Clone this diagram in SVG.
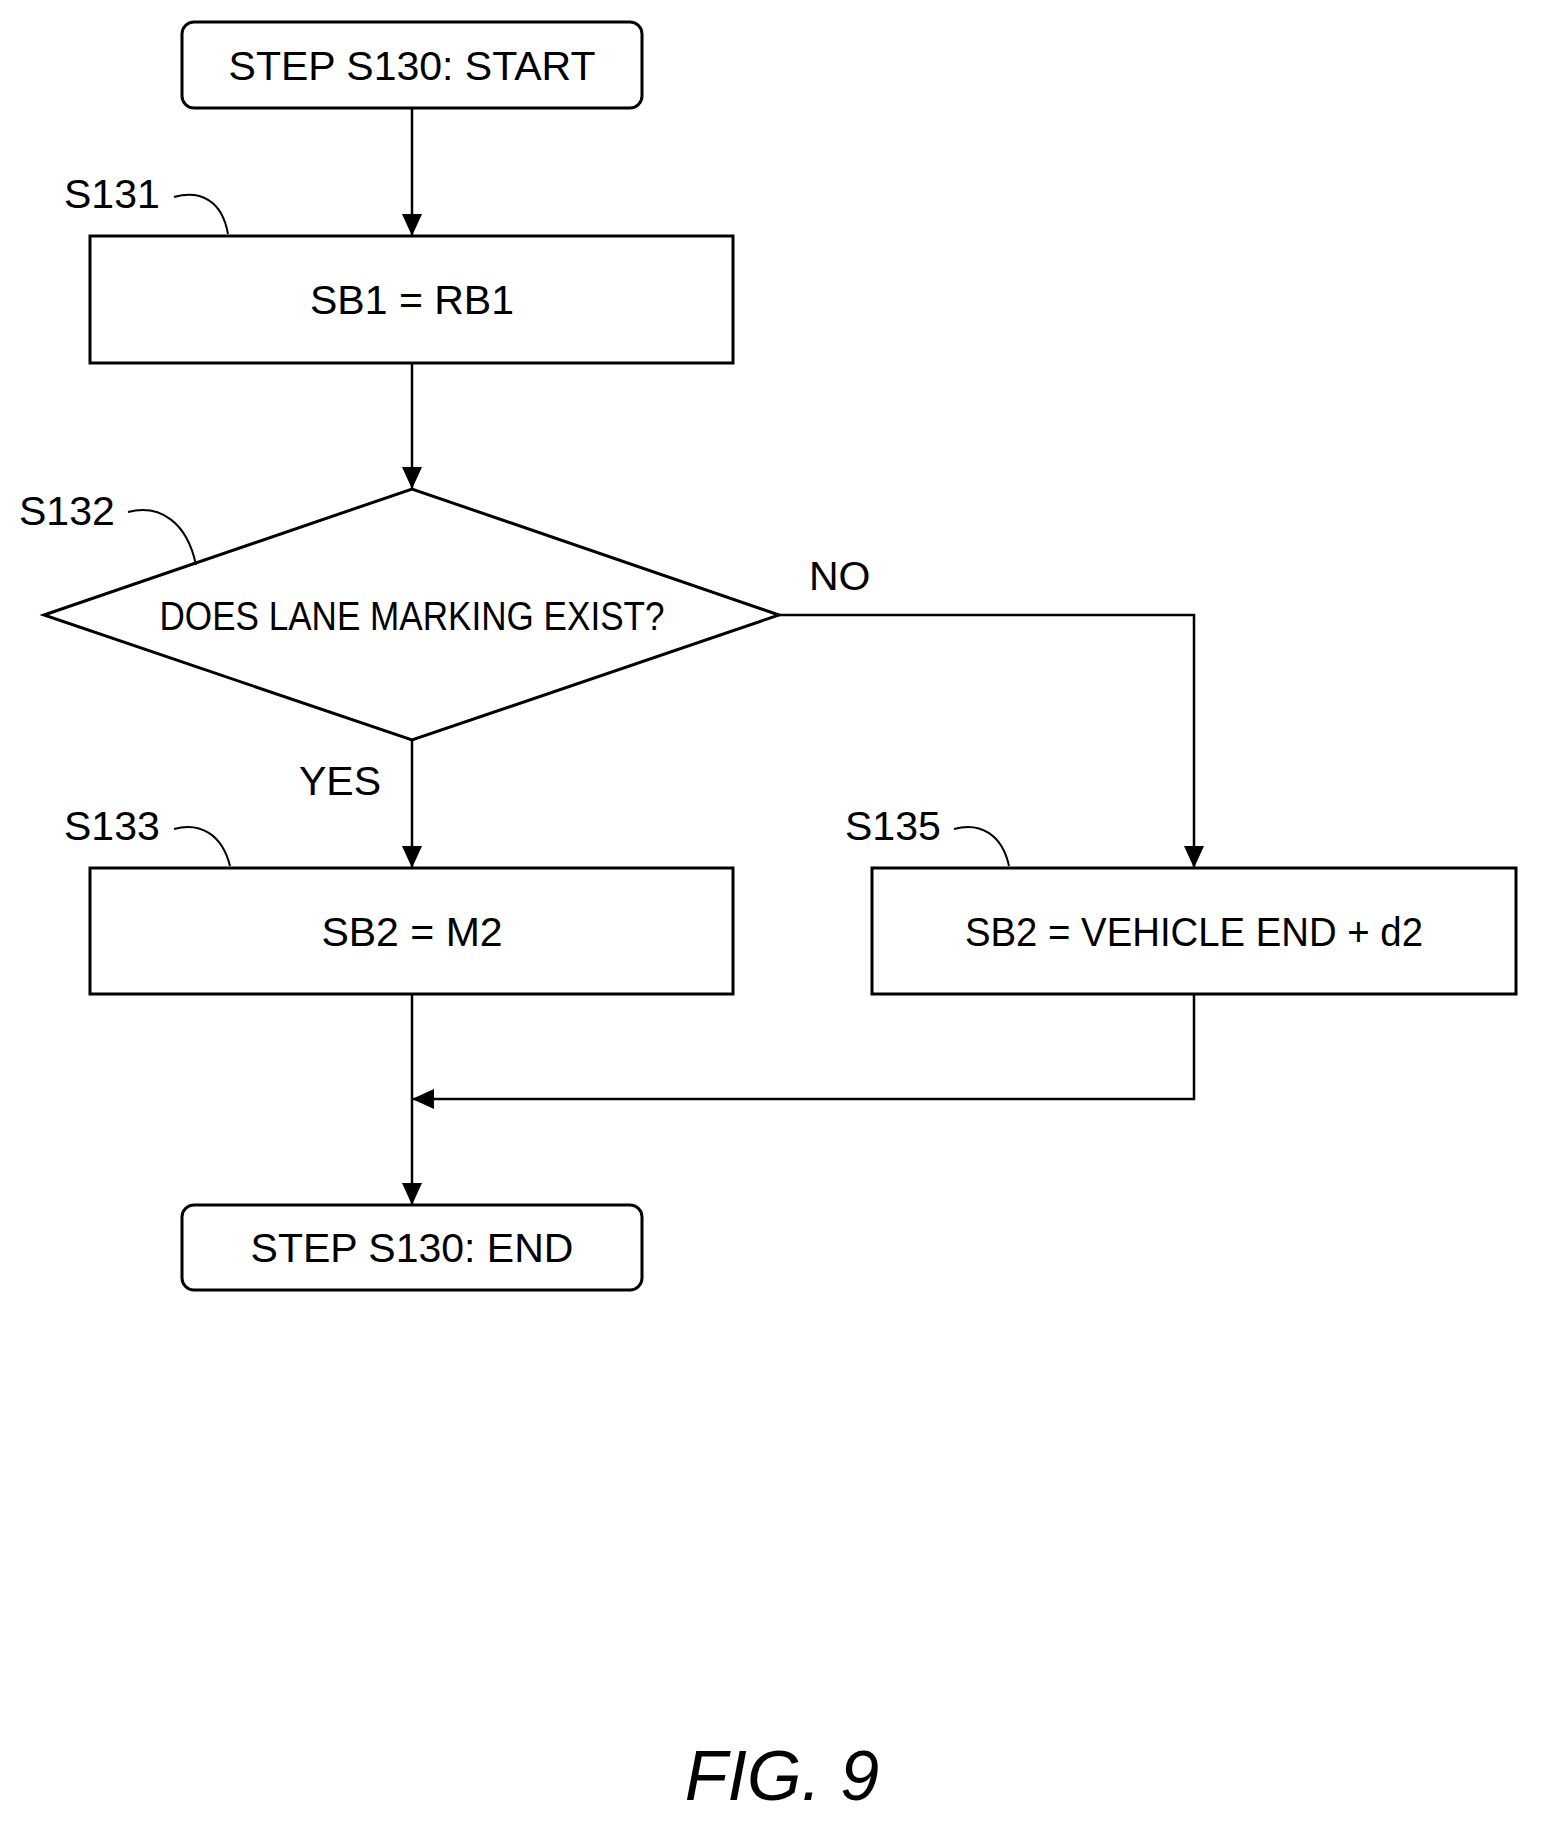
<svg xmlns="http://www.w3.org/2000/svg" width="1543" height="1828" viewBox="0 0 1543 1828">
<style>
.b{fill:#fff;stroke:#000;stroke-width:3}
.t{font-family:"Liberation Sans",Arial,sans-serif;font-size:41px;fill:#000}
.c{fill:none;stroke:#000;stroke-width:2.5}
.l{fill:none;stroke:#000;stroke-width:2}
</style>
<defs><marker id="ar" markerWidth="22" markerHeight="20" refX="22" refY="10" orient="auto" markerUnits="userSpaceOnUse"><path d="M0,0 L22,10 L0,20 z" fill="#000"/></marker></defs>
<rect width="1543" height="1828" fill="#fff"/>
<g id="connectors">
<path class="c" d="M412,108 V236" marker-end="url(#ar)"/>
<path class="c" d="M412,363 V489" marker-end="url(#ar)"/>
<path class="c" d="M412,740 V868" marker-end="url(#ar)"/>
<path class="c" d="M779,615 H1194 V868" marker-end="url(#ar)"/>
<path class="c" d="M412,994 V1205" marker-end="url(#ar)"/>
<path class="c" d="M1194,994 V1099 H412" marker-end="url(#ar)"/>
<text class="t" x="809" y="590">NO</text>
<text class="t" x="299" y="795">YES</text>
</g>
<g id="start"><rect class="b" x="182" y="22" width="460" height="86" rx="12"/><text class="t" x="412" y="80" text-anchor="middle">STEP S130: START</text></g>
<g id="s131"><rect class="b" x="90" y="236" width="643" height="127"/><text class="t" x="412" y="314" text-anchor="middle">SB1 = RB1</text>
<text class="t" x="64" y="208">S131</text><path class="l" d="M174,197 C200,190 222,200 228,234"/></g>
<g id="s132"><polygon class="b" points="44,615 412,489 779,615 412,740"/><text class="t" x="412" y="630" text-anchor="middle" textLength="505" lengthAdjust="spacingAndGlyphs">DOES LANE MARKING EXIST?</text>
<text class="t" x="19" y="525">S132</text><path class="l" d="M128,512 C160,504 187,522 196,565"/></g>
<g id="s133"><rect class="b" x="90" y="868" width="643" height="126"/><text class="t" x="412" y="946" text-anchor="middle">SB2 = M2</text>
<text class="t" x="64" y="840">S133</text><path class="l" d="M174,829 C200,822 222,834 230,866"/></g>
<g id="s135"><rect class="b" x="872" y="868" width="644" height="126"/><text class="t" x="1194" y="946" text-anchor="middle" textLength="458" lengthAdjust="spacingAndGlyphs">SB2 = VEHICLE END + d2</text>
<text class="t" x="845" y="840">S135</text><path class="l" d="M954,829 C980,822 1002,834 1009,866"/></g>
<g id="end"><rect class="b" x="182" y="1205" width="460" height="85" rx="12"/><text class="t" x="412" y="1262" text-anchor="middle">STEP S130: END</text></g>
<text x="782" y="1800" text-anchor="middle" font-family="Liberation Sans,Arial,sans-serif" font-style="italic" font-size="70">FIG. 9</text>
</svg>
